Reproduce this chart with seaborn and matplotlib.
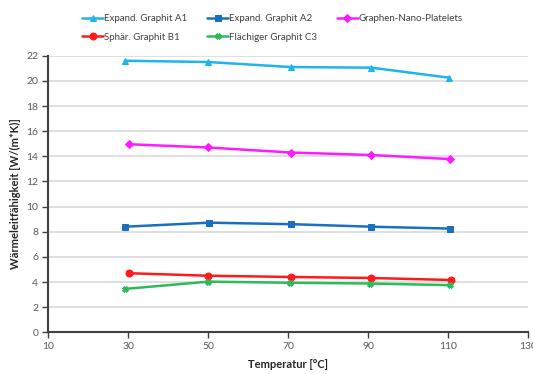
import matplotlib
matplotlib.use("Agg")
import matplotlib.pyplot as plt
import seaborn as sns
import pandas as pd

series_names = ["Expand. Graphit A1", "Expand. Graphit A2", "Graphen-Nano-Platelets",
                "Sphär. Graphit B1", "Flächiger Graphit C3"]

temp_a1 = [29.3, 50.0, 70.7, 90.8, 110.3]
temp_a2 = [29.3, 50.2, 70.8, 90.8, 110.5]
temp_gnp = [30.2, 50.0, 70.8, 90.8, 110.5]
temp_b1 = [30.2, 50.0, 70.8, 90.7, 110.7]
temp_c3 = [29.2, 50.1, 70.6, 90.5, 110.5]

val_a1 = [21.6, 21.5, 21.1, 21.05, 20.25]
val_a2 = [8.4, 8.72, 8.6, 8.4, 8.25]
val_gnp = [14.96, 14.7, 14.3, 14.1, 13.78]
val_b1 = [4.7, 4.5, 4.4, 4.32, 4.16]
val_c3 = [3.45, 4.03, 3.94, 3.88, 3.75]

x_ticks = [10, 30, 50, 70, 90, 110, 130]
y_ticks = [0, 2, 4, 6, 8, 10, 12, 14, 16, 18, 20, 22]

colors = ["#1fb4ec", "#1a6fc0", "#ff1aff", "#ff1a1a", "#2dbb5a"]
markers = ["^", "s", "D", "o", "X"]
msizes = [5, 5, 3.8, 5, 4.2]

temps = [temp_a1, temp_a2, temp_gnp, temp_b1, temp_c3]
vals = [val_a1, val_a2, val_gnp, val_b1, val_c3]

rows = []
for name, ts, vs in zip(series_names, temps, vals):
    for t, v in zip(ts, vs):
        rows.append({"Serie": name, "Temperatur": t, "Wert": v})
df = pd.DataFrame(rows)

sns.set_theme(style="white")
plt.rcParams["font.family"] = ["Lato", "DejaVu Sans"]

fig = plt.figure(figsize=(5.33, 3.74), dpi=100)
ax = fig.add_axes([0.090, 0.1115, 0.901, 0.7395])

for name, col, mk, ms in zip(series_names, colors, markers, msizes):
    sub = df[df["Serie"] == name]
    sns.lineplot(data=sub, x="Temperatur", y="Wert", ax=ax, color=col,
                 marker=mk, markersize=ms, markeredgecolor=col, linewidth=1.8,
                 label=name, sort=False, estimator=None)

ax.set_xlim(10, 130)
ax.set_ylim(0, 22)
ax.set_xticks(x_ticks)
ax.set_yticks(y_ticks)
ax.yaxis.grid(True, color="#d9d9d9", linewidth=1.2)
ax.xaxis.grid(False)
for s in ["top", "right"]:
    ax.spines[s].set_visible(False)
for s in ["left", "bottom"]:
    ax.spines[s].set_color("#404040")
    ax.spines[s].set_linewidth(1.5)
ax.tick_params(axis="both", which="major", direction="out", length=4, width=1,
               color="#404040", labelsize=7.5, labelcolor="#595959", pad=3)
ax.tick_params(left=True, bottom=True)

ax.set_xlabel("Temperatur [°C]", fontsize=8, fontweight="bold", color="#262626", labelpad=6)
ax.set_ylabel("Wärmeleitfähigkeit [W/(m*K)]", fontsize=8, fontweight="bold", color="#262626", labelpad=4)

handles, labels = ax.get_legend_handles_labels()
ax.get_legend().remove()
# legend filled row by row: A1, A2, GNP / B1, C3
order = [0, 3, 1, 4, 2]
fig.legend([handles[i] for i in order], [labels[i] for i in order], ncol=3,
           loc="upper left", bbox_to_anchor=(0.138, 0.985),
           frameon=False, fontsize=7, handlelength=2.1, handletextpad=0.1,
           columnspacing=2.1, labelspacing=0.95, labelcolor="#404040")

fig.savefig("out.png", dpi=100)
